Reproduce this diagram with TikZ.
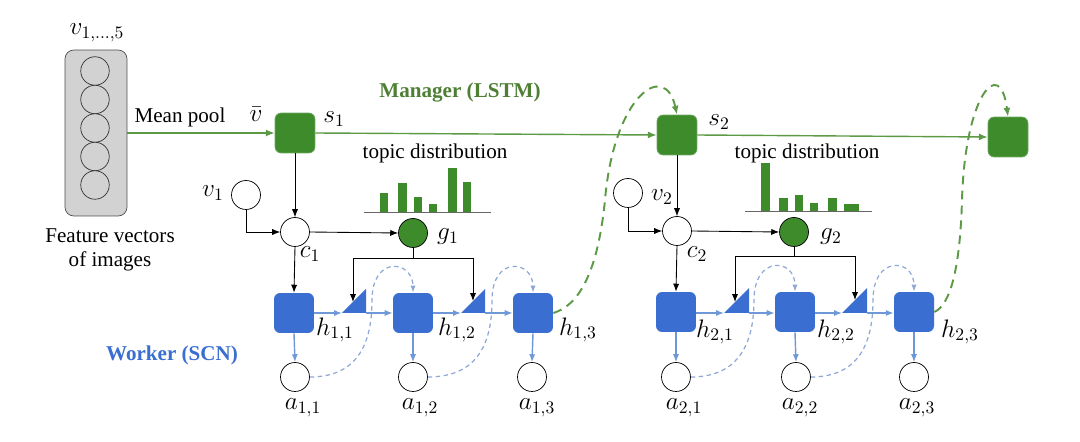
\documentclass[tikz,border=0pt]{standalone}
\usepackage{fontspec}
\setmainfont{Liberation Serif}
\usetikzlibrary{arrows.meta}
\definecolor{mgreen}{HTML}{3E8B2C}
\definecolor{mgreenline}{HTML}{5C9A45}
\definecolor{mgreentext}{HTML}{4E7F34}
\definecolor{wblue}{HTML}{3A6FD1}
\definecolor{lblue}{HTML}{6F98D8}
\definecolor{dblue}{HTML}{8FA8D6}
\definecolor{boxgray}{HTML}{D2D2D2}
\begin{document}
\begin{tikzpicture}[x=0.02cm,y=-0.02cm,font=\fontsize{12}{14}\selectfont,
  mbox/.style={draw=mgreen!75!white,fill=mgreen,rounded corners=3.5pt,minimum size=0.8cm,inner sep=0pt},
  wbox/.style={fill=wblue,rounded corners=3.5pt,minimum size=0.8cm,inner sep=0pt},
  circ/.style={circle,draw,fill=white,minimum size=0.58cm,inner sep=0pt},
  gcirc/.style={circle,draw,fill=mgreen,minimum size=0.58cm,inner sep=0pt},
  fcirc/.style={circle,draw=black!80,fill=boxgray,minimum size=0.57cm,inner sep=0pt},
  fvbox/.style={draw=black!70,fill=boxgray,rounded corners=5pt,minimum width=1.24cm,minimum height=3.32cm,inner sep=0pt},
  garrow/.style={draw=mgreenline,line width=0.8pt,-{Latex[length=5pt,width=4pt]}},
  barrow/.style={draw=black,line width=0.5pt,-{Latex[length=4.5pt,width=3.5pt]}},
  blarrow/.style={draw=lblue,line width=0.8pt,-{Latex[length=4.5pt,width=3.5pt]}},
  gdash/.style={draw=mgreenline,line width=1.1pt,dash pattern=on 5pt off 3.5pt,-{Latex[length=5pt,width=4pt]}},
  bdash/.style={draw=dblue,line width=0.7pt,dash pattern=on 2.5pt off 2pt,-{Latex[length=4pt,width=3pt]}},
  gate/.style={fill=wblue},
  bar/.style={fill=mgreen},
  baseline/.style={draw=black!60,line width=0.5pt},
  mlab/.style={font=\fontsize{14}{16}\selectfont},
]
\useasboundingbox (0,0) rectangle (1080,442);

% feature vectors
\node[fvbox] (fv) at (96,133) {};
\foreach \k/\yy in {1/71,2/99.5,3/128,4/156.5,5/185}
  \node[fcirc] (f\k) at (95,\yy) {};
\node[mlab] (vlab) at (97,33) {$v_{1,\ldots,5}$};
\node (ft1) at (110,236) {Feature vectors};
\node (ft2) at (110,261) {of images};
\node (mp) at (180,117) {Mean pool};
\node[mlab] (vbar) at (256,114) {$\bar{v}$};

% manager
\node[mbox] (s1) at (295,133) {};
\node[mbox] (s2) at (677,135) {};
\node[mbox] (s3) at (1008,137) {};
\node[mlab] (s1l) at (334,119) {$s_1$};
\node[mlab] (s2l) at (719,122) {$s_2$};
\node[text=mgreentext,font=\fontsize{12}{14}\selectfont\bfseries] (mgr) at (460,93) {Manager (LSTM)};
\draw[garrow] (fv.east |- s1.west) -- (s1.west);
\draw[garrow] (s1.east) -- (s2.west);
\draw[garrow] (s2.east) -- (s3.west);

% topic distributions
\node (td1) at (435,153) {topic distribution};
\node (td2) at (807,153) {topic distribution};
\foreach \a/\b/\t in {380/388/193,398/407/183,414/422/197,429/437/204,448/457/168,463/471/182}
  \fill[bar] (\a,\t) rectangle (\b,212);
\draw[baseline] (364,212) -- (491,212);
\foreach \a/\b/\t in {761/770/163,779/788/198,795/803/195,810/818/203,828/837/198,844/859/204}
  \fill[bar] (\a,\t) rectangle (\b,211);
\draw[baseline] (745,211) -- (872,211);

% context nodes
\node[circ] (v1) at (246,195) {};
\node[circ] (c1) at (295,232) {};
\node[gcirc] (g1) at (413,233) {};
\node[mlab] (v1l) at (213,193) {$v_1$};
\node[mlab] (c1l) at (310,254) {$c_1$};
\node[mlab] (g1l) at (448,237) {$g_1$};
\node[circ] (v2) at (628,193) {};
\node[circ] (c2) at (677,231) {};
\node[gcirc] (g2) at (794,232) {};
\node[mlab] (v2l) at (662,197) {$v_2$};
\node[mlab] (c2l) at (697,254) {$c_2$};
\node[mlab] (g2l) at (831,237) {$g_2$};

\draw[barrow] (s1.south) -- (c1.north);
\draw[barrow] (v1.south) |- (c1.west);
\draw[barrow] (c1.east) -- (g1.west);
\draw[barrow] (s2.south) -- (c2.north);
\draw[barrow] (v2.south) |- (c2.west);
\draw[barrow] (c2.east) -- (g2.west);

% worker boxes
\node[wbox] (b1) at (294,313) {};
\node[wbox] (b2) at (413,313) {};
\node[wbox] (b3) at (533,313) {};
\node[wbox] (b4) at (676,312) {};
\node[wbox] (b5) at (795,312) {};
\node[wbox] (b6) at (914,312) {};
\node[text=wblue,font=\fontsize{12}{14}\selectfont\bfseries] (wk) at (172,355) {Worker (SCN)};

\draw[barrow] (c1.south) -- (b1.north);
\draw[barrow] (c2.south) -- (b4.north);

% gates
\fill[gate] (342,313) -- (366,313) -- (366,289) -- cycle;
\fill[gate] (461,313) -- (485,313) -- (485,289) -- cycle;
\fill[gate] (724,313) -- (749,313) -- (749,288) -- cycle;
\fill[gate] (842,313) -- (867,313) -- (867,288) -- cycle;
\coordinate (q1l) at (342,313); \coordinate (q1r) at (366,313);
\coordinate (q2l) at (461,313); \coordinate (q2r) at (485,313);
\coordinate (q3l) at (724,313); \coordinate (q3r) at (749,313);
\coordinate (q4l) at (842,313); \coordinate (q4r) at (867,313);
\coordinate (t1) at (353,302); \coordinate (t2) at (473,301);
\coordinate (t3) at (735,302); \coordinate (t4) at (855,300);
\coordinate (j1) at (413,258); \coordinate (j2) at (794,256);

\draw[black,line width=0.5pt] (g1.south) -- (j1);
\draw[barrow] (j1) -| (t1);
\draw[barrow] (j1) -| (t2);
\draw[black,line width=0.5pt] (g2.south) -- (j2);
\draw[barrow] (j2) -| (t3);
\draw[barrow] (j2) -| (t4);

\draw[blarrow] (b1.east) -- (q1l);
\draw[blarrow] (q1r) -- (b2.west);
\draw[blarrow] (b2.east) -- (q2l);
\draw[blarrow] (q2r) -- (b3.west);
\draw[blarrow] (b4.east |- q3l) -- (q3l);
\draw[blarrow] (q3r) -- (b5.west |- q3r);
\draw[blarrow] (b5.east |- q4l) -- (q4l);
\draw[blarrow] (q4r) -- (b6.west |- q4r);

% outputs
\node[circ] (a11) at (295,377) {};
\node[circ] (a12) at (413,377) {};
\node[circ] (a13) at (532,377) {};
\node[circ] (a21) at (676,377) {};
\node[circ] (a22) at (796,377) {};
\node[circ] (a23) at (914,377) {};
\draw[blarrow] (b1.south) -- (a11.north);
\draw[blarrow] (b2.south) -- (a12.north);
\draw[blarrow] (b3.south) -- (a13.north);
\draw[blarrow] (b4.south) -- (a21.north);
\draw[blarrow] (b5.south) -- (a22.north);
\draw[blarrow] (b6.south) -- (a23.north);

\node[mlab] at (335,330) (h11) {$h_{1,1}$};
\node[mlab] at (457,330) (h12) {$h_{1,2}$};
\node[mlab] at (578,330) (h13) {$h_{1,3}$};
\node[mlab] at (715,332) (h21) {$h_{2,1}$};
\node[mlab] at (836,332) (h22) {$h_{2,2}$};
\node[mlab] at (960,332) (h23) {$h_{2,3}$};
\node[mlab] at (303,408) (al11) {$a_{1,1}$};
\node[mlab] at (420,408) (al12) {$a_{1,2}$};
\node[mlab] at (537,408) (al13) {$a_{1,3}$};
\node[mlab] at (684,408) (al21) {$a_{2,1}$};
\node[mlab] at (800,408) (al22) {$a_{2,2}$};
\node[mlab] at (917,408) (al23) {$a_{2,3}$};

% dashed feedback (blue)
\draw[bdash] (a11.east) .. controls (360,377) and (372,340) .. (372,300) .. controls (372,255) and (413,260) .. (b2.north);
\draw[bdash] (a12.east) .. controls (480,377) and (492,340) .. (492,300) .. controls (492,255) and (533,260) .. (b3.north);
\draw[bdash] (a21.east) .. controls (741,377) and (754,340) .. (754,300) .. controls (754,255) and (795,258) .. (b5.north);
\draw[bdash] (a22.east) .. controls (861,377) and (873,340) .. (873,300) .. controls (873,255) and (914,258) .. (b6.north);

% dashed feedback (green)
\draw[gdash] (b3.east) .. controls (580,305) and (598,270) .. (605,200) .. controls (614,95) and (665,60) .. (s2.north);
\draw[gdash] (b6.east) .. controls (950,305) and (960,270) .. (962,200) .. controls (965,95) and (1000,55) .. (s3.north);
\end{tikzpicture}
\end{document}
